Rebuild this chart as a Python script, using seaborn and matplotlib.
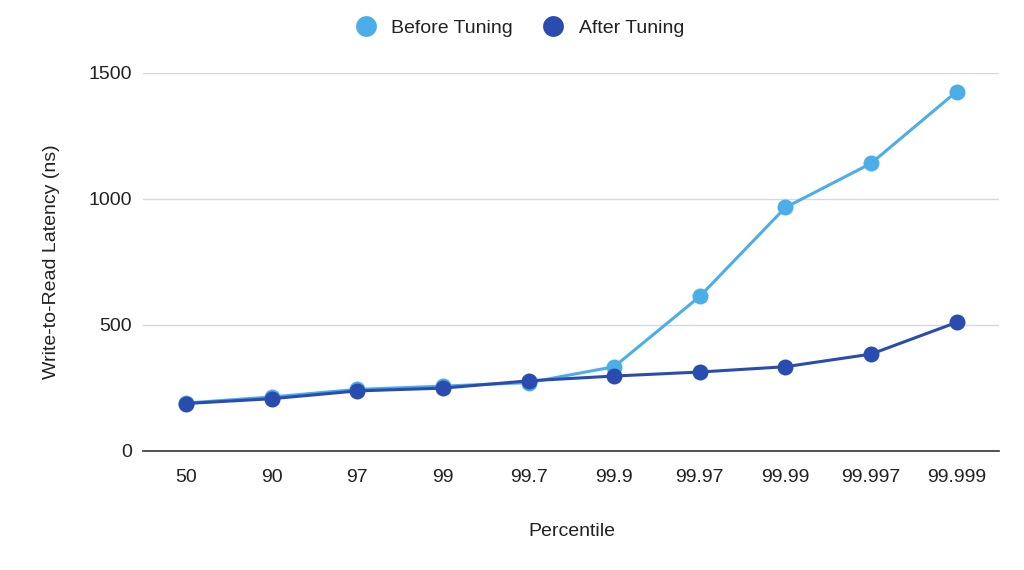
import pandas as pd
import matplotlib
matplotlib.use("Agg")
import matplotlib.pyplot as plt
import seaborn as sns
from matplotlib.lines import Line2D

percentiles = ["50", "90", "97", "99", "99.7", "99.9", "99.97", "99.99", "99.997", "99.999"]
before_tuning = [190, 214, 244, 257, 271, 334, 613, 966, 1141, 1426]
after_tuning = [188, 207, 238, 249, 278, 297, 313, 334, 384, 510]

colors = {"Before Tuning": "#4BAEE8", "After Tuning": "#2A4CAF"}

df = pd.concat([
    pd.DataFrame({"Percentile": percentiles, "latency": before_tuning, "series": "Before Tuning"}),
    pd.DataFrame({"Percentile": percentiles, "latency": after_tuning, "series": "After Tuning"}),
])

sns.set_style("white")
plt.rcParams["font.family"] = ["Liberation Sans", "DejaVu Sans"]

fig, ax = plt.subplots(figsize=(10.24, 5.7), dpi=100)
fig.subplots_adjust(left=0.14, right=0.976, top=0.872, bottom=0.209)

sns.lineplot(data=df, x="Percentile", y="latency", hue="series", palette=colors,
             marker="o", markersize=11.5, markeredgewidth=0, linewidth=2.2,
             sort=False, ax=ax, legend=False)

ax.set_xlim(-0.5, len(percentiles) - 0.5)
ax.set_ylim(0, 1500)
ax.set_yticks([0, 500, 1000, 1500])
ax.yaxis.grid(True, color="#d9d9d9", linewidth=1)
ax.set_axisbelow(True)
for s in ["top", "right", "left"]:
    ax.spines[s].set_visible(False)
ax.spines["bottom"].set_color("#333333")
ax.spines["bottom"].set_linewidth(1.2)
ax.tick_params(axis="both", length=0, labelsize=14, colors="#222222")
ax.tick_params(axis="x", pad=13)
ax.tick_params(axis="y", pad=8)

ax.set_xlabel("Percentile", fontsize=14, color="#222222", labelpad=27)
ax.set_ylabel("Write-to-Read Latency (ns)", fontsize=14, color="#222222", labelpad=21)

handles = [Line2D([], [], linestyle="none", marker="o", markersize=15,
                  markerfacecolor=c, markeredgewidth=0, label=k)
           for k, c in colors.items()]
fig.legend(handles=handles, loc="center", bbox_to_anchor=(0.503, 0.951), ncol=2,
           frameon=False, fontsize=14, handletextpad=0.3, columnspacing=1.1,
           labelcolor="#222222")

fig.savefig("out.png", dpi=100)
